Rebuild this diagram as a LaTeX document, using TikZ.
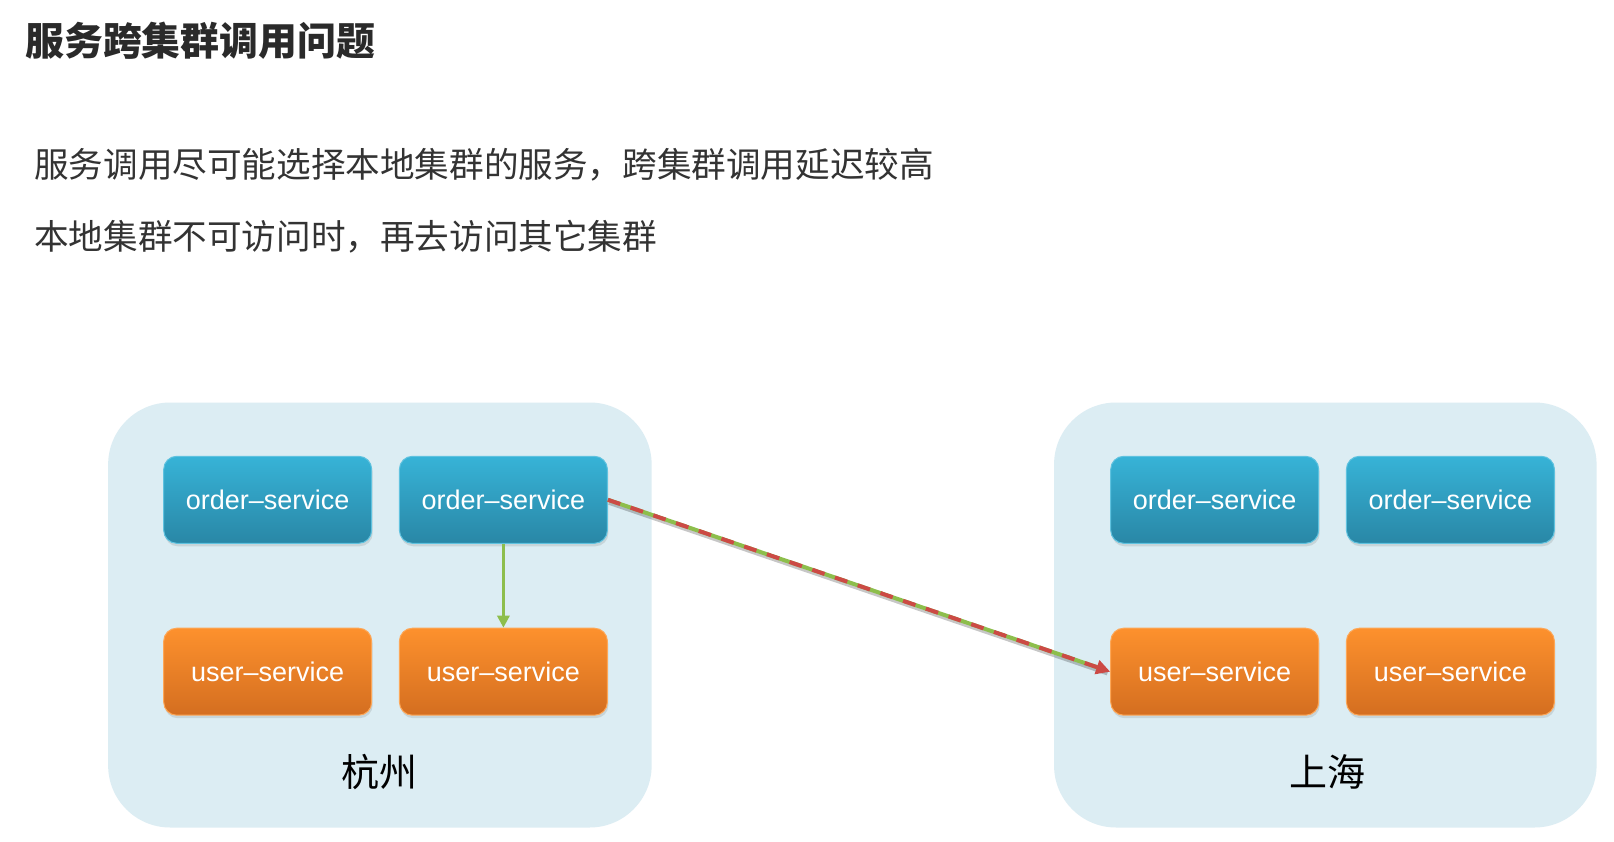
\documentclass[tikz,border=0pt]{standalone}
\usepackage{fontspec}
\setmainfont{Liberation Sans}
\newfontfamily\cjk{Noto Sans CJK SC}
\usetikzlibrary{arrows.meta,shadows}
\definecolor{bluetop}{HTML}{37B3D7}
\definecolor{bluebot}{HTML}{2987A6}
\definecolor{orangetop}{HTML}{FD912D}
\definecolor{orangebot}{HTML}{D46E20}
\definecolor{clusterbg}{HTML}{DCEDF3}
\definecolor{arrowgreen}{HTML}{8DBE4C}
\definecolor{arrowred}{HTML}{CC4A45}
\definecolor{textgray}{HTML}{333333}
\definecolor{titlegray}{HTML}{2A2A2A}
\begin{document}
\begin{tikzpicture}[x=1pt,y=-1pt,
  cluster/.style={rectangle, fill=clusterbg, rounded corners=62pt, inner sep=0pt},
  svc/.style={rectangle, rounded corners=13pt, minimum width=208pt, minimum height=87pt,
    inner sep=0pt, text=white, font=\fontsize{27}{32}\selectfont, line width=1pt,
    drop shadow={shadow xshift=1pt, shadow yshift=-3pt, opacity=0.22}},
  ordersvc/.style={svc, top color=bluetop, bottom color=bluebot, draw=bluetop!80!white},
  usersvc/.style={svc, top color=orangetop, bottom color=orangebot, draw=orangetop!80!white},
  citylabel/.style={font=\cjk\fontsize{38}{40}\selectfont, text=black, inner sep=0pt},
  bodytext/.style={font=\cjk\fontsize{34.6}{40}\selectfont, text=textgray, anchor=west, inner sep=0pt},
  titletext/.style={font=\cjk\bfseries\fontsize{38.9}{44}\selectfont, text=titlegray, anchor=west, inner sep=0pt},
  localcall/.style={draw=arrowgreen, line width=3pt, -{Triangle[length=12pt,width=12pt]}},
]
\useasboundingbox[fill=white] (0,0) rectangle (1614,842);

% texts
\node[titletext] (title) at (25,41) {服务跨集群调用问题};
\node[bodytext] (line1) at (34,165) {服务调用尽可能选择本地集群的服务，跨集群调用延迟较高};
\node[bodytext] (line2) at (34,237) {本地集群不可访问时，再去访问其它集群};

% clusters
\node[cluster, minimum width=543.5pt, minimum height=425pt] (hz) at (379.9,615) {};
\node[cluster, minimum width=542.5pt, minimum height=425pt] (sh) at (1325.3,615) {};

% Hangzhou services
\node[ordersvc] (o1) at (267.7,499.8) {order–service};
\node[ordersvc] (o2) at (503.4,499.8) {order–service};
\node[usersvc] (u1) at (267.7,671.7) {user–service};
\node[usersvc] (u2) at (503.4,671.7) {user–service};
\node[citylabel] (hzlabel) at (379,772) {杭州};

% Shanghai services
\node[ordersvc] (ro1) at (1214.7,499.8) {order–service};
\node[ordersvc] (ro2) at (1450.4,499.8) {order–service};
\node[usersvc] (ru1) at (1214.7,671.7) {user–service};
\node[usersvc] (ru2) at (1450.4,671.7) {user–service};
\node[citylabel] (shlabel) at (1327,772) {上海};

% local call
\draw[localcall] (o2.south) -- (u2.north);

% cross-cluster call
\draw[black, opacity=0.22, line width=4pt, shorten >=4pt, transform canvas={shift={(1pt,-3pt)}}] (o2.east) -- (ru1.west);
\draw[arrowgreen, line width=4pt, shorten >=12pt] (o2.east) -- (ru1.west);
\draw[arrowred, line width=4pt, dash pattern=on 13pt off 11pt, -{Triangle[length=14pt,width=14pt]}] (o2.east) -- (ru1.west);
\end{tikzpicture}
\end{document}
